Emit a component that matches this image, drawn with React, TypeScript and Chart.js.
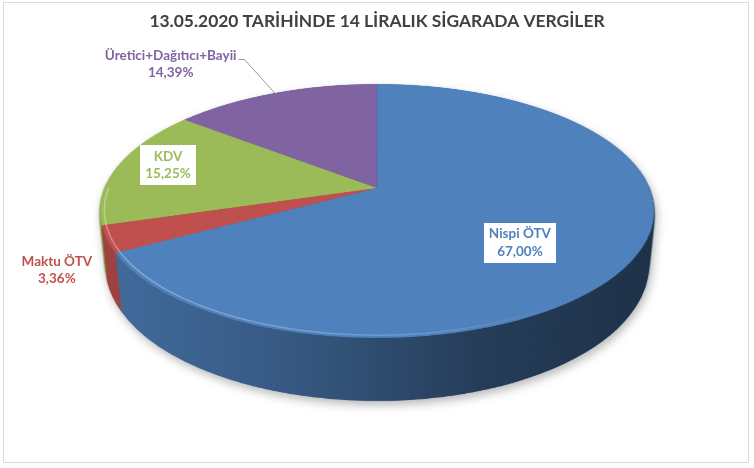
import React, { useEffect, useRef } from "react";
import { Chart, registerables } from "chart.js";

Chart.register(...registerables);

// ---------- data ----------
const TITLE = "13.05.2020 TARİHİNDE 14 LİRALIK SİGARADA VERGİLER";
const categories = ["Nispi ÖTV", "Maktu ÖTV", "KDV", "Üretici+Dağıtıcı+Bayii"];
const shares = [67.0, 3.36, 15.25, 14.39];
const sliceColors = ["#4F81BD", "#C0504D", "#9BBB59", "#8064A2"];

// ---------- layout / styling ----------
const W = 754;
const H = 468;
const FONT = "Lato, 'Open Sans', sans-serif";
// perspective camera used to tilt the pie (screen px, plane radius = 1)
const CAM = { cx: 377, cy: 188, F: 1343, L: 4.93, s: 0.4508, c: 0.8926, depth: 0.2309 };
// label placement: fraction of radius along the slice's mid angle + screen nudge
const labelPlacement = [
  { f: 0.6, dx: -6, dy: 15, boxed: true, leader: false },
  { f: 1.0, dx: -50, dy: 31, boxed: false, leader: false },
  { f: 0.79, dx: -3, dy: -5, boxed: true, leader: false },
  { f: 1.0, dx: -104, dy: -29, boxed: false, leader: true },
];

function planeY(yScreen: number, h: number) {
  const yu = CAM.cy - yScreen;
  const Lh = CAM.L + h * CAM.s;
  return (yu * Lh + CAM.F * h * CAM.c) / (CAM.F * CAM.s - yu * CAM.c);
}

function project(X: number, Y: number, h: number) {
  const d = CAM.L + h * CAM.s + Y * CAM.c;
  return { x: CAM.cx + (CAM.F * X) / d, y: CAM.cy - (CAM.F * (Y * CAM.s - h * CAM.c)) / d };
}

// maps a flat (circular) pie image onto the tilted plane, row by row
function warp(ctx: CanvasRenderingContext2D, src: HTMLCanvasElement, sc: number, Rs: number, h: number) {
  const Lh = CAM.L + h * CAM.s;
  for (let y = 0; y < H; y++) {
    const Y0 = planeY(y, h);
    const Y1 = planeY(y + 1, h);
    if (Math.max(Y0, Y1) < -1.02 || Math.min(Y0, Y1) > 1.02) continue;
    let sy0 = sc - Y0 * Rs;
    let sy1 = sc - Y1 * Rs;
    sy0 = Math.max(0, sy0);
    sy1 = Math.min(src.height, sy1);
    if (sy1 - sy0 <= 0.01) continue;
    const Ym = (Y0 + Y1) / 2;
    const k = CAM.F / (Lh + Ym * CAM.c) / Rs;
    ctx.drawImage(src, 0, sy0, src.width, sy1 - sy0, CAM.cx - sc * k, y, src.width * k, 1);
  }
}

const pie3d = {
  id: "pie3d",
  beforeDraw(chart: any) {
    const ctx = chart.ctx as CanvasRenderingContext2D;
    ctx.save();
    ctx.fillStyle = "#ffffff";
    ctx.fillRect(0, 0, chart.width, chart.height);
    ctx.strokeStyle = "#D9D9D9";
    ctx.lineWidth = 1;
    ctx.strokeRect(3.5, 2.5, 745, 460);
    ctx.restore();
  },
  beforeDatasetsDraw(chart: any) {
    const meta = chart.getDatasetMeta(0);
    const arcs = meta.data as any[];
    if (!arcs.length) return false;
    const a0 = arcs[0];
    const R = a0.outerRadius;
    const Q = 1.5;
    const Rs = R * Q;
    const size = Math.ceil(2 * Rs) + 16;
    const sc = size / 2;
    const src = document.createElement("canvas");
    src.width = size;
    src.height = size;
    const sctx = src.getContext("2d")!;
    sctx.setTransform(Q, 0, 0, Q, sc - a0.x * Q, sc - a0.y * Q);
    arcs.forEach((a) => a.draw(sctx));

    // extruded side
    const side = document.createElement("canvas");
    side.width = chart.width;
    side.height = chart.height;
    const sd = side.getContext("2d")!;
    sd.imageSmoothingEnabled = true;
    (sd as any).imageSmoothingQuality = "high";
    const N = 90;
    for (let i = N; i >= 1; i--) warp(sd, src, sc, Rs, (CAM.depth * i) / N);
    sd.globalCompositeOperation = "source-atop";
    const g = sd.createLinearGradient(100, 0, 654, 0);
    g.addColorStop(0, "rgba(0,0,0,0.17)");
    g.addColorStop(0.325, "rgba(0,0,0,0.30)");
    g.addColorStop(0.686, "rgba(0,0,0,0.53)");
    g.addColorStop(1, "rgba(0,0,0,0.62)");
    sd.fillStyle = g;
    sd.fillRect(0, 0, side.width, side.height);

    const ctx = chart.ctx as CanvasRenderingContext2D;
    ctx.save();
    ctx.shadowColor = "rgba(0,0,0,0.28)";
    ctx.shadowBlur = 10;
    ctx.shadowOffsetX = 2;
    ctx.shadowOffsetY = 4;
    ctx.drawImage(side, 0, 0);
    ctx.restore();

    ctx.save();
    ctx.imageSmoothingEnabled = true;
    (ctx as any).imageSmoothingQuality = "high";
    warp(ctx, src, sc, Rs, 0);
    ctx.restore();

    // soft bevel highlight along the front rim of the top face (fading to the right)
    ctx.save();
    const hg = ctx.createLinearGradient(100, 0, 654, 0);
    hg.addColorStop(0, "rgba(255,255,255,0.32)");
    hg.addColorStop(0.55, "rgba(255,255,255,0.18)");
    hg.addColorStop(0.85, "rgba(255,255,255,0.0)");
    hg.addColorStop(1, "rgba(255,255,255,0.0)");
    ctx.strokeStyle = hg;
    ctx.lineWidth = 1.5;
    ctx.beginPath();
    for (let t = 0; t <= 180; t += 2) {
      const ang = (t * Math.PI) / 180;
      const p = project(Math.cos(ang) * 0.985, -Math.sin(ang) * 0.985, 0);
      if (t === 0) ctx.moveTo(p.x, p.y);
      else ctx.lineTo(p.x, p.y);
    }
    ctx.stroke();
    ctx.restore();
    return false;
  },
  afterDraw(chart: any) {
    const ctx = chart.ctx as CanvasRenderingContext2D;
    const arcs = chart.getDatasetMeta(0).data as any[];
    const values = chart.data.datasets[0].data as number[];
    const labels = chart.data.labels as string[];
    ctx.save();
    ctx.font = `bold 13.5px ${FONT}`;
    ctx.textAlign = "center";
    ctx.textBaseline = "middle";
    arcs.forEach((a, i) => {
      const p = labelPlacement[i];
      const mid = (a.startAngle + a.endAngle) / 2;
      const pt = project(Math.cos(mid) * p.f, -Math.sin(mid) * p.f, 0);
      const lx = pt.x + p.dx;
      const ly = pt.y + p.dy;
      const l1 = labels[i];
      const l2 = values[i].toFixed(2).replace(".", ",") + "%";
      const w = Math.max(ctx.measureText(l1).width, ctx.measureText(l2).width);
      if (p.boxed) {
        ctx.fillStyle = "#ffffff";
        ctx.fillRect(Math.round(lx - w / 2 - 5), Math.round(ly - 20), Math.round(w + 10), 40);
      }
      if (p.leader) {
        const ex = lx + w / 2 + 8;
        const ey = ly - 4.5;
        ctx.strokeStyle = "#9A9A9A";
        ctx.lineWidth = 1;
        ctx.beginPath();
        ctx.moveTo(pt.x, pt.y);
        ctx.lineTo(ex, ey);
        ctx.lineTo(lx + w / 2 + 2, ey);
        ctx.stroke();
      }
      ctx.fillStyle = sliceColors[i];
      ctx.fillText(l1, lx, ly - 8.75);
      ctx.fillText(l2, lx, ly + 8.75);
    });
    ctx.restore();
  },
};

export default function App() {
  const ref = useRef<HTMLCanvasElement>(null);
  useEffect(() => {
    const chart = new Chart(ref.current!, {
      type: "pie",
      data: {
        labels: categories,
        datasets: [
          {
            data: shares,
            backgroundColor: sliceColors,
            borderWidth: 0,
          },
        ],
      },
      options: {
        responsive: false,
        maintainAspectRatio: false,
        devicePixelRatio: 1,
        animation: false,
        events: [],
        layout: { padding: { top: 0, bottom: 20, left: 0, right: 0 } },
        plugins: {
          legend: { display: false },
          tooltip: { enabled: false },
          title: {
            display: true,
            text: TITLE,
            color: "#404040",
            font: { family: FONT, size: 17.4, weight: "bold" },
            padding: { top: 11, bottom: 8 },
          },
        },
      },
      plugins: [pie3d],
    } as any);
    return () => chart.destroy();
  }, []);
  return (
    <div style={{ position: "absolute", left: 0, top: 0, width: W, height: H }}>
      <canvas ref={ref} width={W} height={H} style={{ display: "block" }} />
    </div>
  );
}
